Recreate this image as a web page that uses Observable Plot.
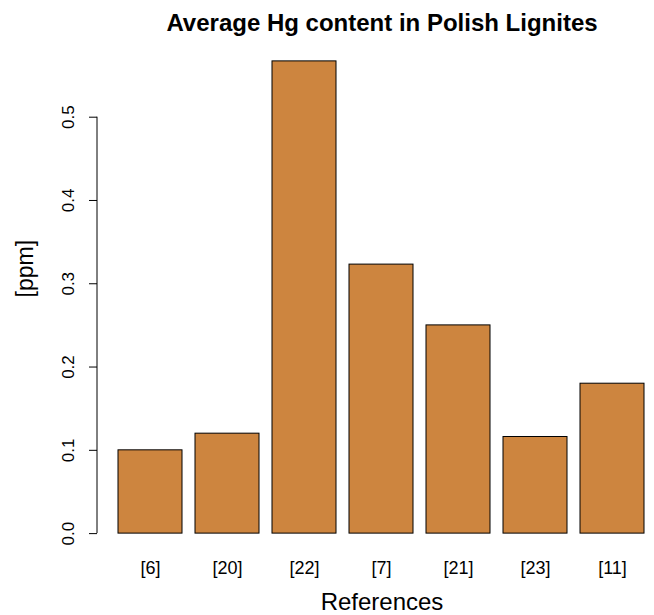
<!DOCTYPE html>
<html><head><meta charset="utf-8">
<script src="https://cdn.jsdelivr.net/npm/d3@7"></script>
<script src="https://cdn.jsdelivr.net/npm/@observablehq/plot@0.6"></script>
<style>html,body{margin:0;padding:0;background:#fff}</style>
</head><body><div id="chart"></div>
<script>
const references = ["[6]", "[20]", "[22]", "[7]", "[21]", "[23]", "[11]"];
const hgValues = [0.10, 0.12, 0.567, 0.323, 0.25, 0.116, 0.18];
const yTicks = [0.0, 0.1, 0.2, 0.3, 0.4, 0.5];
const titleText = "Average Hg content in Polish Lignites";
const xLabel = "References";
const yLabel = "[ppm]";

const data = references.map((r, i) => ({ref: r, hg: hgValues[i]}));
const font = "'Liberation Sans', Arial, Helvetica, sans-serif";
const yMax = d3.max(hgValues);
const pad = 0.04 * yMax;

const axisLine = Plot.ruleY([0], {
  render: (index, scales, values, dims, context) => {
    const g = d3.select(context.document.createElementNS("http://www.w3.org/2000/svg", "g"));
    g.append("line")
      .attr("x1", dims.marginLeft).attr("x2", dims.marginLeft)
      .attr("y1", scales.y(d3.min(yTicks))).attr("y2", scales.y(d3.max(yTicks)))
      .attr("stroke", "#000").attr("stroke-width", 1);
    return g.node();
  }
});

const chart = Plot.plot({
  width: 654,
  height: 615,
  marginLeft: 97,
  marginRight: -12,
  marginTop: 42,
  marginBottom: 63,
  style: {fontFamily: font, background: "white", color: "black"},
  x: {domain: references, paddingInner: 0.2 / 1.2, paddingOuter: 0.2733, label: null},
  y: {domain: [-pad, yMax + pad], label: null},
  marks: [
    Plot.barY(data, {x: "ref", y: "hg", fill: "#CD853F", stroke: "#000", strokeWidth: 1}),
    Plot.axisY(yTicks, {anchor: "left", tickSize: 8, tickRotate: -90, tickPadding: 16, fontSize: 17,
      textAnchor: "middle", lineAnchor: "bottom", tickFormat: d3.format(".1f"), label: null}),
    Plot.axisX({tickSize: 0, tickPadding: 9, fontSize: 18, label: null}),
    axisLine,
    Plot.text([titleText], {frameAnchor: "top", lineAnchor: "bottom", dy: -12, fontWeight: "bold", fontSize: 24}),
    Plot.text([xLabel], {frameAnchor: "bottom", lineAnchor: "bottom", dy: 57, fontSize: 24}),
    Plot.text([yLabel], {frameAnchor: "left", lineAnchor: "middle", rotate: -90, dx: -72, fontSize: 23})
  ]
});
document.getElementById("chart").appendChild(chart);
</script>
</body></html>
